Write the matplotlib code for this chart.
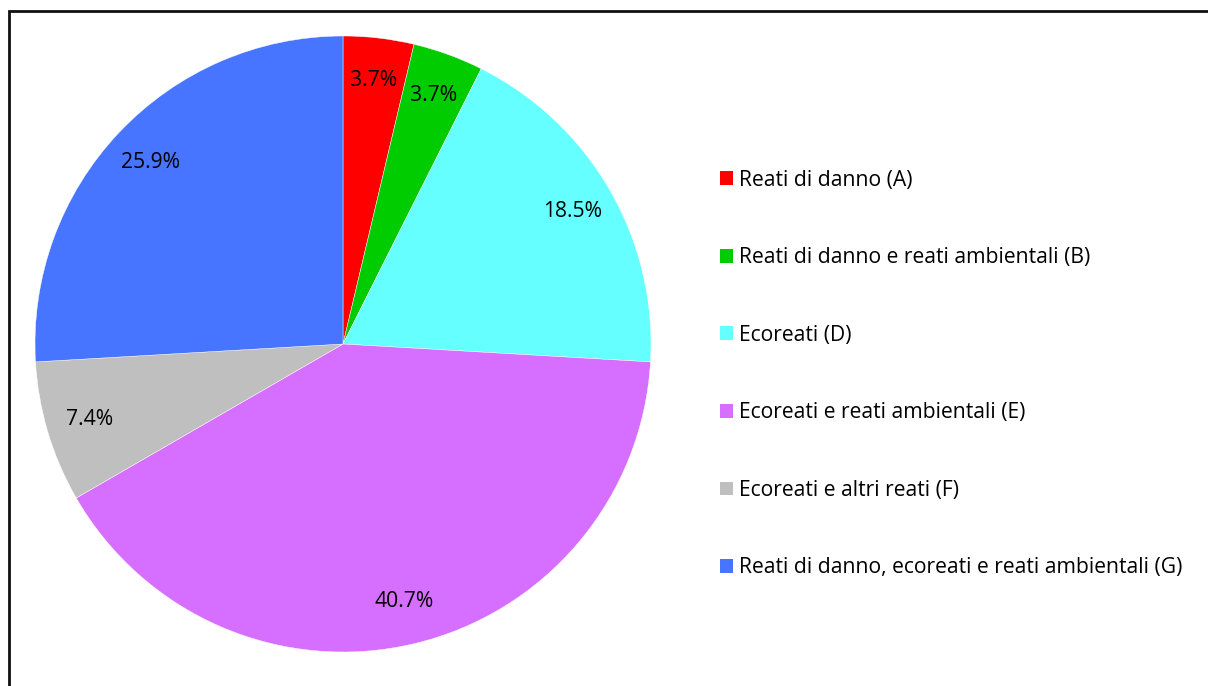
import matplotlib
matplotlib.use('Agg')
import matplotlib.pyplot as plt
from matplotlib.patches import Rectangle

plt.rcParams['font.family'] = ['Open Sans', 'DejaVu Sans']

# data
labels = ['Reati di danno (A)',
          'Reati di danno e reati ambientali (B)',
          'Ecoreati (D)',
          'Ecoreati e reati ambientali (E)',
          'Ecoreati e altri reati (F)',
          'Reati di danno, ecoreati e reati ambientali (G)']
counts = [1, 1, 5, 11, 2, 7]
colors = ['#ff0000', '#00cc00', '#66ffff', '#d66fff', '#bfbfbf', '#4775ff']

W, H = 1208, 686
fig = plt.figure(figsize=(W / 100, H / 100), dpi=100)

# frame around the chart (runs off the right and bottom edges)
fig.patches.append(Rectangle((9 / W, -0.1), 1.2, 1 - 11 / H + 0.1,
                             transform=fig.transFigure, fill=False,
                             edgecolor='#111111', linewidth=2))

ax = fig.add_axes([35 / W, 34 / H, 616 / W, 616 / H])
wedges, texts, autotexts = ax.pie(counts, colors=colors, startangle=90,
                                  counterclock=False, autopct='%.1f%%',
                                  pctdistance=0.86,
                                  wedgeprops=dict(edgecolor='white', linewidth=0.3),
                                  textprops=dict(fontsize=15.2, color='black'))
ax.set_xlim(-1, 1)
ax.set_ylim(-1, 1)
ax.set_aspect('equal')

leg = fig.legend(wedges, labels, loc='upper left',
                 bbox_to_anchor=(709 / W, 1 - 159 / H),
                 frameon=False, fontsize=15.2,
                 handlelength=0.62, handleheight=0.62, handletextpad=0.3,
                 labelspacing=2.68, borderpad=0)
for h in leg.legend_handles:
    h.set_edgecolor('none')

fig.savefig('out.png', dpi=100)
